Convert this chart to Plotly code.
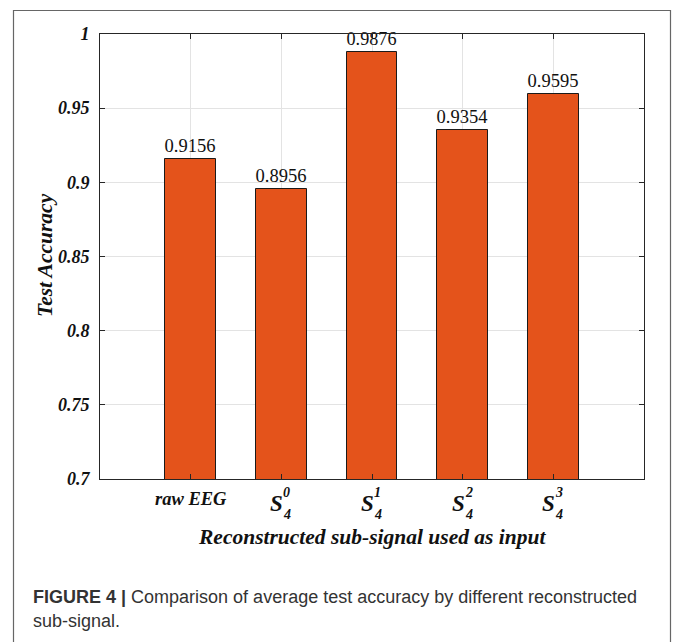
import plotly.graph_objects as go

categories = ["raw EEG", "S40", "S41", "S42", "S43"]
accuracy = [0.9156, 0.8956, 0.9876, 0.9354, 0.9595]
base_labels = ["raw EEG", "S", "S", "S", "S"]
sup_labels = ["", "0", "1", "2", "3"]
sub_labels = ["", "4", "4", "4", "4"]
y_ticks = [0.7, 0.75, 0.8, 0.85, 0.9, 0.95, 1.0]
y_ticktext = ["0.7", "0.75", "0.8", "0.85", "0.9", "0.95", "1"]

W, H = 673, 642
PL, PR, PT, PB = 100, 644, 34, 479  # plot area in pixels

def px(x):
    return x / W

def py(y):
    return (H - y) / H

SERIF = "Liberation Serif, Times New Roman, serif"
SANS = "Liberation Sans, Arial, sans-serif"
BAR = "#E4531B"
AX = "#262626"

fig = go.Figure()
fig.add_trace(go.Bar(
    x=categories, y=accuracy, width=0.56,
    marker=dict(color=BAR, line=dict(color="#1a1a1a", width=1)),
    text=[f"{v:.4f}" for v in accuracy], textposition="outside",
    textfont=dict(family=SERIF, size=20, color="#111"),
    cliponaxis=False,
))

fig.update_layout(
    width=W, height=H, margin=dict(l=0, r=0, t=0, b=0, pad=0, autoexpand=False),
    paper_bgcolor="white", plot_bgcolor="white", showlegend=False,
    bargap=0,
    xaxis=dict(
        domain=[px(PL), px(PR)], type="category", range=[-1, 5], automargin=False,
        categoryorder="array", categoryarray=categories,
        showticklabels=False, ticks="inside", ticklen=5, tickcolor=AX,
        showgrid=True, gridcolor="#e3e3e3", gridwidth=1,
        showline=True, linecolor=AX, linewidth=1, mirror="ticks",
        zeroline=False,
    ),
    yaxis=dict(
        domain=[py(PB), py(PT)], range=[0.7, 1.0], automargin=False,
        tickvals=y_ticks, ticktext=[f"<b><i>{t}</i></b>" for t in y_ticktext],
        tickfont=dict(family=SERIF, size=18, color="#111"),
        ticks="inside", ticklen=5, tickcolor=AX,
        showgrid=True, gridcolor="#e3e3e3", gridwidth=1,
        showline=True, linecolor=AX, linewidth=1, mirror="ticks",
        zeroline=False, ticklabelstandoff=6,
    ),
)

ann = []
for c, b, sp, sb in zip(categories, base_labels, sup_labels, sub_labels):
    if sp == "" and sb == "":
        ann.append(dict(x=c, xref="x", y=py(499), yref="paper", text=f"<b><i>{b}</i></b>",
                        showarrow=False, xanchor="center", yanchor="middle",
                        font=dict(family=SERIF, size=18.5, color="#111")))
    else:
        ann.append(dict(x=c, xref="x", y=py(503), yref="paper", text=f"<b><i>{b}</i></b>",
                        showarrow=False, xanchor="right", yanchor="middle", xshift=3,
                        borderpad=0, font=dict(family=SERIF, size=23, color="#111")))
        ann.append(dict(x=c, xref="x", y=py(492), yref="paper", text=f"<b><i>{sp}</i></b>",
                        showarrow=False, xanchor="left", yanchor="middle", xshift=1,
                        borderpad=0, font=dict(family=SERIF, size=14, color="#111")))
        ann.append(dict(x=c, xref="x", y=py(514), yref="paper", text=f"<b><i>{sb}</i></b>",
                        showarrow=False, xanchor="left", yanchor="middle", xshift=1,
                        borderpad=0, font=dict(family=SERIF, size=14, color="#111")))

ann.append(dict(x=px((PL + PR) / 2), xref="paper", y=py(537), yref="paper",
                text="<b><i>Reconstructed sub-signal used as input</i></b>",
                showarrow=False, xanchor="center", yanchor="middle",
                font=dict(family=SERIF, size=21.5, color="#111")))
ann.append(dict(x=px(45), xref="paper", y=py(255), yref="paper",
                text="<b><i>Test Accuracy</i></b>", textangle=-90,
                showarrow=False, xanchor="center", yanchor="middle",
                font=dict(family=SERIF, size=21.5, color="#111")))
ann.append(dict(x=px(31), xref="paper", y=py(597), yref="paper",
                text="<b>FIGURE 4 |</b> Comparison of average test accuracy by different reconstructed",
                showarrow=False, xanchor="left", yanchor="middle",
                font=dict(family=SANS, size=18, color="#333")))
ann.append(dict(x=px(31), xref="paper", y=py(621), yref="paper",
                text="sub-signal.",
                showarrow=False, xanchor="left", yanchor="middle",
                font=dict(family=SANS, size=18, color="#333")))
fig.update_layout(annotations=ann)

fig.add_shape(type="rect", xref="paper", yref="paper",
              x0=px(13.5), x1=px(670.5), y0=-0.02, y1=py(10.5),
              line=dict(color="#666", width=1.2), fillcolor="rgba(0,0,0,0)", layer="below")

post = (
    "document.documentElement.style.margin='0';"
    "document.body.style.margin='0';document.body.style.padding='0';"
    "document.body.style.overflow='hidden';"
    "var d=document.getElementById('{plot_id}');"
    "d.style.position='fixed';d.style.top='0px';d.style.left='0px';"
)
fig.write_html("out.html", config={"displayModeBar": False}, post_script=post)
